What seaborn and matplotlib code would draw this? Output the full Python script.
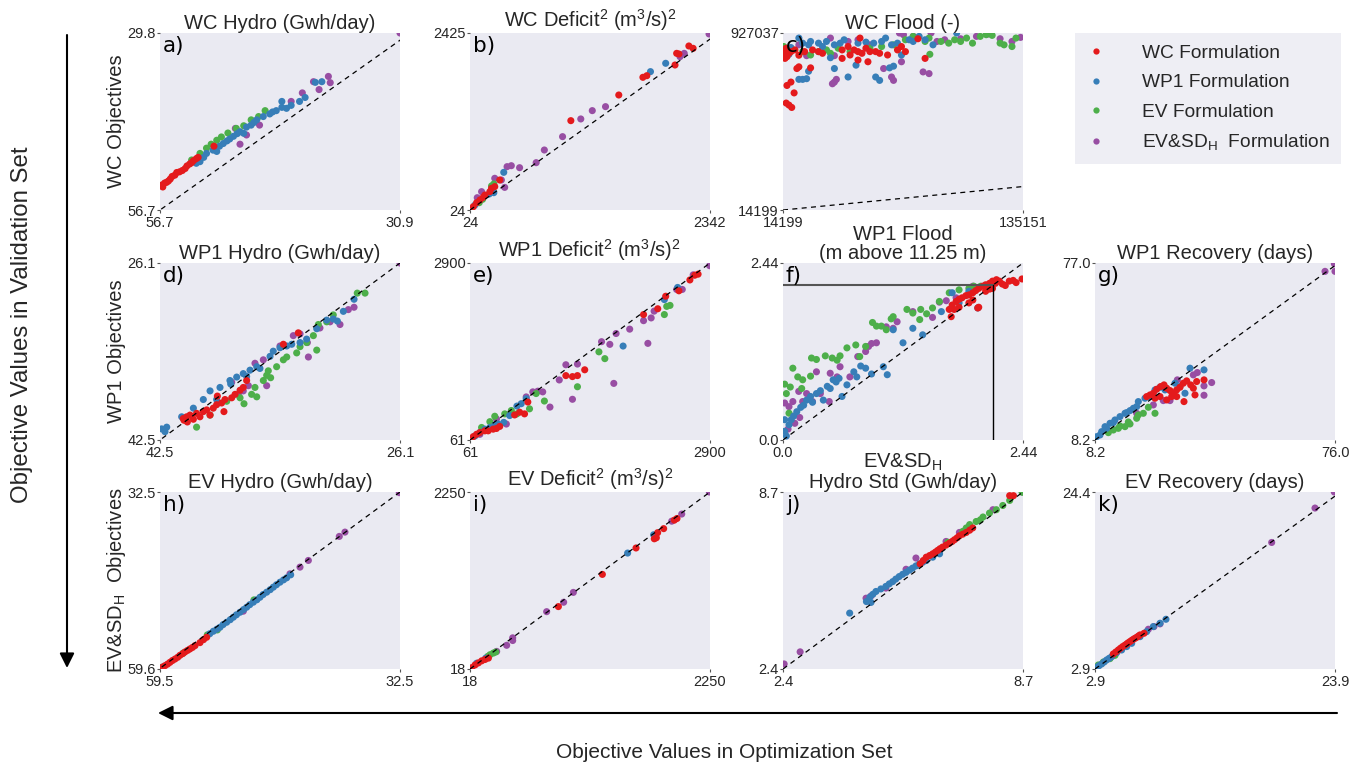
import matplotlib
matplotlib.use("Agg")
import matplotlib.pyplot as plt
from matplotlib.lines import Line2D
import seaborn as sns
import pandas as pd

# ---------------- data ----------------
FORMS = ["WC Formulation", "WP1 Formulation", "EV Formulation",
         "EV&SD$_\\mathregular{H}$  Formulation"]
COLORS = ["#E41A1C", "#377EB8", "#4DAF4A", "#984EA3"]

# a) WC Hydro
a_wc = [(56.6, 53.0), (56.5, 52.9), (56.4, 53.2), (56.2, 52.6), (56.0, 52.5), (55.8, 52.3), (55.6, 52.0),
        (55.4, 51.6), (55.1, 51.4), (54.9, 51.0), (54.6, 50.9), (54.3, 50.7), (54.0, 50.4), (53.8, 50.0),
        (53.5, 49.7), (53.3, 49.5), (53.1, 49.2), (52.8, 48.9), (52.6, 48.7), (50.9, 47.0)]
a_wp1 = [(52.8, 49.6), (52.4, 49.35), (52.0, 48.7), (51.7, 48.1), (51.0, 47.6), (50.6, 47.8), (50.3, 47.0),
         (49.9, 46.6), (49.5, 46.2), (49.2, 45.9), (48.8, 45.5), (48.4, 45.1), (48.1, 44.8), (47.7, 45.05),
         (47.4, 44.1), (46.9, 43.8), (46.6, 43.4), (46.3, 43.0), (45.6, 42.5), (44.9, 42.1), (44.6, 41.8),
         (44.2, 41.6), (43.6, 41.1), (43.6, 40.2), (43.1, 41.25), (42.6, 40.8), (41.7, 40.2), (41.1, 39.6),
         (40.0, 37.3), (39.3, 37.2)]
a_ev = [(53.3, 49.1), (52.4, 48.1), (51.7, 47.3), (51.2, 46.7), (50.6, 46.1), (50.1, 45.6), (49.4, 45.0),
        (48.5, 44.3), (47.7, 43.9), (46.9, 43.0), (46.1, 42.5), (45.4, 41.6)]
a_evsd = [(48.6, 44.3), (48.1, 46.7), (47.4, 45.3), (46.0, 43.8), (42.6, 40.2), (41.4, 38.9), (40.2, 37.2),
          (39.6, 38.4), (38.4, 37.35), (38.6, 36.4), (30.9, 29.8)]

# b) WC Deficit^2
b_wc = [(56, 69), (88, 123), (120, 160), (152, 196), (168, 227), (216, 273), (232, 318), (263, 341),
        (311, 431), (998, 1236), (1461, 1584), (1694, 1824), (1732, 1846), (2004, 1991), (2020, 2149),
        (2042, 2140), (2138, 2249), (2179, 2217)]
b_wp1 = [(72, 92), (209, 241), (254, 259), (350, 535), (1767, 1901), (1914, 2014)]
b_ev = [(113, 123), (145, 169), (232, 350), (254, 377)]
b_evsd = [(94, 191), (136, 273), (263, 454), (327, 431), (359, 331), (382, 612), (423, 625), (503, 598),
          (663, 666), (742, 838), (918, 1019), (1094, 1259), (1205, 1372), (1333, 1426), (2052, 2104),
          (2093, 2149), (2333, 2412)]

# c) WC Flood
c_wc = [(15200, 796100), (14600, 813600), (15200, 831000), (15800, 848500), (16200, 804900), (17200, 822300),
        (18200, 831000), (20200, 839800), (22200, 812400), (25100, 831000), (29100, 839800), (32100, 831000),
        (34100, 822300), (44000, 839800), (48000, 813600), (50000, 839800), (52000, 831000), (54000, 822300),
        (56000, 848500), (58000, 831000), (60900, 831000), (62900, 822300), (66900, 813600), (71900, 839800),
        (73900, 857200), (75900, 831000), (82200, 897400), (85800, 796100), (53000, 900900), (47000, 857200),
        (16200, 656500), (18200, 674000), (15800, 565700), (17200, 555300), (18600, 543100), (19800, 618100),
        (21200, 743800), (22200, 752500), (28100, 747300), (44000, 796100), (52000, 787400), (57000, 778700)]
c_wp1 = [(22200, 900900), (24100, 874700), (27100, 866000), (28100, 883400), (32100, 874700), (34100, 857200),
         (36100, 883400), (40100, 866000), (43000, 874700), (45000, 892100), (52000, 874700), (56000, 879900),
         (59900, 874700), (63900, 883400), (65900, 900900), (68900, 866000), (71900, 874700), (77800, 892100),
         (79800, 883400), (82800, 909600), (85800, 892100), (89800, 866000), (101700, 927000), (40100, 743800),
         (47000, 700100), (51000, 761200), (60900, 700100), (62900, 682700), (67900, 747300), (69900, 756000),
         (24100, 687900), (26100, 691400), (27100, 729800), (22200, 687900), (17200, 817100), (18200, 852000),
         (38100, 799600), (73900, 813600)]
c_ev = [(14600, 857200), (15200, 839800), (18200, 839800), (24100, 831000), (28100, 813600), (32100, 831000),
        (36100, 839800), (38100, 822300), (42000, 848500), (48000, 831000), (58000, 848500), (63900, 857200),
        (69900, 866000), (75900, 892100), (79800, 909600), (87800, 900900), (93800, 883400), (97700, 874700),
        (100700, 892100), (103700, 883400), (106700, 900900), (109700, 874700), (113600, 909600),
        (116600, 918300), (119600, 914800), (123600, 874700), (125600, 866000), (129600, 857200),
        (131600, 900900), (85800, 883400), (88200, 817100)]
c_evsd = [(38100, 900900), (40100, 810100), (47000, 883400), (52000, 892100), (58000, 866000), (64900, 743800),
          (68900, 700100), (69900, 682700), (73900, 778700), (74900, 918300), (79800, 909600), (84800, 726300),
          (87800, 717600), (40100, 674000), (41100, 687900), (39100, 665200), (91800, 883400), (95700, 892100),
          (103700, 897400), (111700, 909600), (117600, 921800), (123600, 897400), (129600, 883400),
          (133900, 904400), (88800, 927000), (72900, 927000), (22200, 866000), (26100, 810100)]

# d) WP1 Hydro
d_wc = [(40.91, 40.51), (40.68, 40.35), (40.45, 40.19), (40.22, 40.58), (40.0, 40.03), (39.77, 40.35),
        (39.54, 39.87), (39.31, 39.71), (39.08, 40.19), (38.86, 39.55), (38.63, 39.23), (38.29, 39.07),
        (38.06, 38.75), (37.60, 38.59), (37.37, 38.27), (37.03, 37.89), (36.81, 37.63), (36.58, 36.99),
        (40.63, 40.83), (40.86, 40.67), (33.05, 32.57), (34.07, 33.63), (38.58, 38.43), (38.13, 39.87)]
d_wp1 = [(42.39, 41.47), (42.04, 41.31), (42.16, 41.73), (41.02, 40.35), (40.22, 39.55), (39.54, 38.75),
         (39.08, 37.95), (38.40, 37.63), (37.72, 36.99), (37.26, 36.67), (36.81, 36.35), (36.35, 36.03),
         (35.89, 35.71), (35.67, 35.87), (34.98, 34.75), (34.76, 34.27), (34.30, 33.95), (33.84, 33.79),
         (33.50, 33.63), (32.93, 33.47), (32.48, 33.15), (31.79, 32.19), (31.11, 31.39), (30.66, 31.29),
         (30.38, 31.48), (29.97, 30.58), (29.24, 29.46), (37.67, 37.31), (38.63, 38.75), (36.58, 36.61)]
d_ev = [(40.0, 41.31), (39.08, 40.19), (37.94, 38.91), (37.03, 38.59), (36.76, 39.14), (36.24, 38.27),
        (36.01, 37.63), (35.44, 36.99), (35.21, 36.51), (34.94, 36.73), (34.53, 35.71), (34.07, 35.07),
        (33.84, 34.81), (33.16, 34.43), (32.93, 33.85), (32.48, 33.47), (31.79, 34.17), (32.02, 32.83),
        (31.68, 31.80), (31.11, 31.55), (30.66, 30.91), (29.02, 28.89), (28.49, 28.89), (35.10, 36.09),
        (35.89, 38.50)]
d_evsd = [(37.60, 37.15), (36.81, 37.95), (36.46, 37.47), (36.01, 35.39), (35.44, 35.07), (35.21, 37.47),
          (34.30, 33.79), (33.39, 32.83), (32.93, 32.67), (32.43, 33.47), (32.36, 34.81), (31.57, 32.12),
          (30.88, 31.55), (30.20, 31.80), (29.63, 30.42), (29.24, 30.20), (26.1, 26.1), (37.15, 38.27)]

# e) WP1 Deficit^2
e_wc = [(100, 115), (139, 153), (178, 181), (237, 208), (276, 208), (335, 235), (374, 246), (413, 279),
        (589, 463), (648, 507), (706, 480), (745, 670), (1195, 1094), (1273, 1078), (1332, 1094), (1418, 1187),
        (2114, 2073), (2282, 2166), (2376, 2367), (2532, 2454), (2662, 2628), (2720, 2704), (2759, 2721)]
e_wp1 = [(120, 126), (178, 181), (237, 235), (296, 262), (354, 300), (393, 317), (460, 344), (530, 453),
         (616, 605), (667, 643), (726, 724), (1872, 1568), (2360, 2313), (2517, 2508)]
e_ev = [(198, 262), (296, 355), (354, 442), (472, 480), (550, 534), (616, 480), (765, 561), (843, 806),
        (941, 686), (1586, 1475), (1656, 1366), (1332, 915), (2388, 2204), (2427, 2220), (2360, 2073)]
e_evsd = [(178, 153), (393, 289), (491, 317), (726, 752), (804, 833), (863, 844), (921, 833), (1007, 589),
          (1117, 1024), (1195, 1268), (1273, 714), (1332, 1279), (1617, 1638), (1715, 1595), (1762, 969),
          (1789, 1769), (1950, 1839), (2165, 1611), (2114, 1975), (2204, 2019), (2239, 2128), (2505, 2476),
          (2572, 2476), (2701, 2710), (2896, 2857), (374, 398)]

# f) WP1 Flood
f_wc = [(1.69, 1.80), (1.72, 1.86), (1.76, 1.91), (1.79, 1.94), (1.82, 1.96), (1.86, 1.99), (1.89, 2.00),
        (1.93, 2.03), (1.96, 2.06), (1.99, 2.09), (2.03, 2.12), (2.06, 2.14), (2.10, 2.16), (2.13, 2.19),
        (2.16, 2.16), (2.20, 2.19), (2.23, 2.15), (2.26, 2.13), (2.30, 2.19), (2.34, 2.20), (2.37, 2.17),
        (2.43, 2.22), (1.74, 1.80), (1.79, 1.83), (1.93, 1.93), (1.99, 1.83), (1.89, 1.89), (2.06, 2.05),
        (2.13, 2.09), (1.98, 1.82), (2.10, 2.08), (2.17, 2.21), (1.71, 1.70)]
f_wp1 = [(0.017, 0.12), (0.034, 0.055), (0.061, 0.21), (0.084, 0.28), (0.108, 0.33), (0.14, 0.39), (0.18, 0.45),
         (0.21, 0.48), (0.24, 0.55), (0.28, 0.60), (0.30, 0.52), (0.34, 0.64), (0.38, 0.68), (0.41, 0.55),
         (0.45, 0.74), (0.48, 0.71), (0.51, 0.83), (0.54, 0.80), (0.57, 0.85), (0.60, 0.60), (0.65, 0.76),
         (0.72, 0.94), (0.75, 0.87), (0.79, 1.02), (0.84, 0.99), (0.90, 0.91), (1.02, 1.01), (1.06, 0.90),
         (1.12, 1.52), (1.22, 1.34), (1.32, 1.54), (1.42, 1.45), (1.61, 1.77), (1.72, 2.03), (1.89, 2.05),
         (1.98, 1.82), (1.79, 1.89), (0.017, 0.28)]
f_ev = [(0.017, 0.77), (0.034, 0.64), (0.061, 0.37), (0.074, 0.73), (0.10, 0.99), (0.15, 0.87), (0.19, 0.71),
        (0.20, 0.83), (0.28, 0.88), (0.29, 1.13), (0.34, 1.11), (0.43, 1.16), (0.50, 1.13), (0.55, 1.10),
        (0.58, 1.16), (0.65, 1.27), (0.74, 1.31), (0.78, 1.15), (0.84, 1.29), (0.91, 1.62), (0.95, 1.57),
        (1.00, 1.57), (1.05, 1.52), (1.10, 1.67), (1.12, 1.70), (1.26, 1.80), (1.32, 1.75), (1.39, 1.66),
        (1.40, 1.80), (1.46, 1.74), (1.52, 1.82), (1.59, 1.91), (1.69, 2.03), (1.79, 2.07), (1.89, 2.09),
        (1.94, 2.12), (2.01, 2.12), (2.08, 2.13)]
f_evsd = [(0.017, 0.51), (0.061, 0.46), (0.10, 0.53), (0.16, 0.67), (0.20, 0.53), (0.24, 0.64), (0.30, 0.53),
          (0.34, 0.94), (0.38, 0.64), (0.47, 0.53), (0.48, 0.92), (0.55, 0.87), (0.58, 1.01), (0.68, 0.87),
          (0.76, 1.15), (0.84, 1.22), (0.87, 1.29), (0.90, 1.33), (0.95, 1.34), (1.05, 1.56), (1.12, 1.54),
          (1.16, 1.63), (1.32, 1.77), (1.52, 1.69), (1.59, 1.90), (1.66, 1.92), (1.76, 1.96), (1.93, 2.12),
          (0.051, 0.15), (0.12, 0.23), (0.17, 0.31)]
F_THRESHOLD = 2.14

# g) WP1 Recovery
g_wc = [(22.80, 25.08), (23.74, 25.72), (24.68, 26.37), (25.62, 27.93), (26.75, 28.97), (27.69, 29.62),
        (28.45, 28.32), (29.39, 27.41), (30.33, 26.37), (31.27, 27.67), (32.21, 28.71), (33.15, 30.27),
        (34.10, 31.18), (35.23, 29.62), (35.98, 28.32), (36.92, 30.92), (39.0, 31.57), (36.45, 25.72),
        (33.34, 23.13), (26.56, 25.08), (25.15, 24.43), (28.45, 23.78), (29.86, 25.08), (31.27, 25.08)]
g_wp1 = [(8.67, 9.50), (10.08, 11.45), (11.03, 13.39), (12.44, 14.69), (13.85, 15.99), (15.26, 17.29),
         (16.67, 18.58), (18.09, 19.62), (19.03, 20.53), (20.44, 23.13), (22.32, 24.43), (23.74, 25.08),
         (25.15, 27.67), (26.56, 28.71), (27.98, 27.67), (30.80, 30.27), (32.21, 28.97), (35.04, 36.11),
         (38.99, 35.46), (33.62, 26.37), (9.61, 10.15), (11.50, 12.74), (13.38, 14.95), (17.15, 18.84),
         (19.97, 21.18)]
g_ev = [(11.97, 11.06), (13.38, 12.09), (14.79, 12.74), (16.67, 13.39), (18.09, 14.43), (19.97, 16.64),
        (21.85, 18.58), (23.27, 20.92), (25.15, 18.58), (20.44, 17.94), (15.26, 13.65), (17.62, 15.21)]
g_evsd = [(19.97, 18.58), (24.68, 21.83), (27.50, 23.52), (29.39, 23.52), (31.46, 31.57), (35.98, 33.51),
          (37.11, 34.42), (38.99, 29.23), (38.99, 25.59), (41.16, 30.53), (73.18, 73.75), (75.81, 76.74),
          (76.0, 73.75)]

# h) EV Hydro
h_wc = [(59.2, 59.3), (58.94, 59.09), (58.65, 58.85), (58.38, 58.58), (58.1, 58.3), (57.81, 58.07),
        (57.5, 57.8), (57.25, 57.50), (56.95, 57.25), (56.69, 56.99), (56.4, 56.75), (56.13, 56.53),
        (55.85, 56.3), (55.56, 56.02), (55.0, 55.56), (54.6, 55.1), (54.25, 54.74)]
h_wp1 = [(53.9, 54.2), (53.5, 53.82), (53.1, 53.5), (52.75, 53.21), (52.4, 52.8), (52.0, 52.44),
         (51.6, 52.05), (51.25, 51.67), (50.9, 51.3), (50.5, 50.91), (50.1, 50.5), (49.75, 50.14),
         (49.4, 49.75), (49.0, 49.37), (48.6, 49.0), (48.25, 48.61), (47.9, 48.2), (47.5, 47.84),
         (47.1, 47.45), (46.75, 47.07), (46.4, 46.7), (46.0, 46.31), (45.6, 45.95), (45.25, 45.64),
         (44.8, 45.18)]
h_ev = [(59.31, 59.34), (56.88, 57.15), (54.18, 54.38), (53.05, 53.62), (48.93, 49.02)]
h_evsd = [(50.13, 50.75), (44.88, 45.03), (43.75, 44.0), (42.81, 42.98), (39.33, 39.30), (38.69, 38.64),
          (32.58, 32.6)]

# i) EV Deficit^2
i_wc = [(34, 35), (65, 69), (96, 95), (127, 121), (158, 138), (189, 155), (840, 805), (1249, 1211),
        (1562, 1544), (1732, 1660), (1751, 1673), (1763, 1737), (1819, 1788), (1918, 1895), (1943, 1916)]
i_wp1 = [(80, 91), (164, 155), (1484, 1480), (1726, 1711)]
i_ev = [(182, 176), (204, 198), (235, 219), (257, 232)]
i_evsd = [(266, 240), (359, 317), (415, 411), (415, 377), (731, 741), (889, 860), (979, 984), (1894, 1882),
          (1987, 1972), (2244, 2250)]

# j) EV&SD_H Hydro Std
j_wc = [(6.0, 6.14), (6.08, 6.26), (6.16, 6.38), (6.25, 6.44), (6.33, 6.50), (6.40, 6.56), (6.46, 6.62),
        (6.52, 6.68), (6.59, 6.74), (6.68, 6.81), (6.77, 6.88), (6.84, 6.94), (6.90, 7.0), (6.97, 7.07),
        (7.03, 7.14), (7.12, 7.20), (7.21, 7.26), (7.30, 7.34), (7.38, 7.42), (8.35, 8.57), (8.45, 8.57)]
j_wp1 = [(4.15, 4.39), (4.59, 4.80), (4.68, 4.96), (4.76, 5.06), (4.84, 5.16), (4.97, 5.25), (5.10, 5.34),
         (5.28, 5.51), (5.36, 5.60), (5.45, 5.69), (5.54, 5.77), (5.63, 5.84), (5.72, 5.92), (5.80, 5.99),
         (5.89, 6.07), (5.98, 6.14), (6.07, 6.20), (6.16, 6.26), (6.33, 6.38), (6.51, 6.50), (4.71, 4.77),
         (5.19, 5.43)]
j_ev = [(7.12, 7.30), (7.21, 7.42), (7.30, 7.54), (7.47, 7.65), (7.65, 7.81), (7.82, 7.95), (8.0, 8.07),
        (8.17, 8.22), (8.35, 8.40), (8.68, 8.69), (6.73, 6.91), (7.58, 7.71)]
j_evsd = [(2.43, 2.58), (2.85, 3.01), (4.58, 4.92), (4.71, 5.00), (5.63, 5.95), (5.89, 6.35), (6.68, 6.94),
          (7.03, 7.26), (7.30, 7.50), (7.91, 8.07), (8.68, 8.70), (5.10, 5.28)]

# k) EV Recovery
k_wc = [(4.50, 4.73), (4.72, 4.97), (4.94, 5.21), (5.13, 5.42), (5.32, 5.62), (5.50, 5.78), (5.67, 5.94),
        (5.80, 6.08), (5.96, 6.23), (6.10, 6.37), (6.25, 6.51), (6.40, 6.63), (6.55, 6.75), (6.70, 6.90),
        (6.84, 7.04), (7.19, 7.24)]
k_wp1 = [(3.05, 3.10), (3.25, 3.30), (3.48, 3.51), (3.70, 3.75), (3.92, 4.0), (4.14, 4.20), (4.36, 4.40),
         (4.80, 4.89), (5.23, 5.21), (5.67, 5.62), (6.11, 6.02), (6.84, 6.83), (7.42, 7.44), (8.0, 8.05),
         (8.59, 8.46), (9.11, 8.94)]
k_ev = [(3.19, 3.39), (3.63, 3.75), (4.21, 4.16), (4.65, 4.56)]
k_evsd = [(7.57, 7.73), (8.06, 8.05), (8.59, 8.38), (18.36, 18.27), (22.15, 22.45), (23.84, 24.4)]

SUP2 = "$^\\mathregular{2}$"
SUP3 = "$^\\mathregular{3}$"
TITLES = ["WC Hydro (Gwh/day)", "WC Deficit" + SUP2 + " (m" + SUP3 + "/s)" + SUP2, "WC Flood (-)",
          "WP1 Hydro (Gwh/day)", "WP1 Deficit" + SUP2 + " (m" + SUP3 + "/s)" + SUP2,
          "WP1 Flood\n(m above 11.25 m)", "WP1 Recovery (days)",
          "EV Hydro (Gwh/day)", "EV Deficit" + SUP2 + " (m" + SUP3 + "/s)" + SUP2,
          "EV&SD$_\\mathregular{H}$\nHydro Std (Gwh/day)", "EV Recovery (days)"]
LETTERS = ["a)", "b)", "c)", "d)", "e)", "f)", "g)", "h)", "i)", "j)", "k)"]
XLIMS = [(56.7, 30.9), (24, 2342), (14199, 135151), (42.5, 26.1), (61, 2900), (0.0, 2.44), (8.2, 76.0),
         (59.5, 32.5), (18, 2250), (2.4, 8.7), (2.9, 23.9)]
YLIMS = [(56.7, 29.8), (24, 2425), (14199, 927037), (42.5, 26.1), (61, 2900), (0.0, 2.44), (8.2, 77.0),
         (59.6, 32.5), (18, 2250), (2.4, 8.7), (2.9, 24.4)]
XTICKLABELS = [("56.7", "30.9"), ("24", "2342"), ("14199", "135151"), ("42.5", "26.1"), ("61", "2900"),
               ("0.0", "2.44"), ("8.2", "76.0"), ("59.5", "32.5"), ("18", "2250"), ("2.4", "8.7"), ("2.9", "23.9")]
YTICKLABELS = [("56.7", "29.8"), ("24", "2425"), ("14199", "927037"), ("42.5", "26.1"), ("61", "2900"),
               ("0.0", "2.44"), ("8.2", "77.0"), ("59.6", "32.5"), ("18", "2250"), ("2.4", "8.7"), ("2.9", "24.4")]
PANEL_DATA = [(a_wc, a_wp1, a_ev, a_evsd), (b_wc, b_wp1, b_ev, b_evsd), (c_wc, c_wp1, c_ev, c_evsd),
              (d_wc, d_wp1, d_ev, d_evsd), (e_wc, e_wp1, e_ev, e_evsd), (f_wc, f_wp1, f_ev, f_evsd),
              (g_wc, g_wp1, g_ev, g_evsd), (h_wc, h_wp1, h_ev, h_evsd), (i_wc, i_wp1, i_ev, i_evsd),
              (j_wc, j_wp1, j_ev, j_evsd), (k_wc, k_wp1, k_ev, k_evsd)]
ROW_LABELS = ["WC Objectives", "WP1 Objectives", "EV&SD$_\\mathregular{H}$  Objectives"]

# ---------------- style / layout ----------------
sns.set_style("dark")
plt.rcParams["font.family"] = ["Liberation Sans", "DejaVu Sans"]
plt.rcParams["mathtext.fontset"] = "custom"
plt.rcParams["mathtext.rm"] = "Liberation Sans"
plt.rcParams["text.color"] = "#262626"

W, H = 1361, 765
fig = plt.figure(figsize=(W / 100, H / 100), dpi=100)

COL_LEFT = [160, 470, 783, 1095]
ROW_TOP = [33, 263, 492]
PW, PH = 240, 177
GRID = [(0, 0), (0, 1), (0, 2), (1, 0), (1, 1), (1, 2), (1, 3), (2, 0), (2, 1), (2, 2), (2, 3)]

for idx, (r, c) in enumerate(GRID):
    ax = fig.add_axes([COL_LEFT[c] / W, 1 - (ROW_TOP[r] + PH) / H, PW / W, PH / H])
    rows = []
    # draw purple first, red last (on top)
    for name, pts in reversed(list(zip(FORMS, PANEL_DATA[idx]))):
        for x, y in pts:
            rows.append((x, y, name))
    df = pd.DataFrame(rows, columns=["x", "y", "form"])
    sns.scatterplot(data=df, x="x", y="y", hue="form", hue_order=FORMS, palette=COLORS,
                    s=26, linewidth=0, legend=False, ax=ax, zorder=2)
    xl, yl = XLIMS[idx], YLIMS[idx]
    lo, hi = min(xl + yl), max(xl + yl)
    ax.plot([lo, hi], [lo, hi], color="black", lw=0.9, ls=(0, (4, 3.5)), zorder=3)
    if idx == 5:
        ax.plot([xl[0], F_THRESHOLD], [F_THRESHOLD, F_THRESHOLD], color="#555555", lw=1.5, zorder=4)
        ax.plot([F_THRESHOLD, F_THRESHOLD], [yl[0], F_THRESHOLD], color="black", lw=1.0, zorder=4)
    ax.set_xlim(*xl)
    ax.set_ylim(*yl)
    ax.set_xticks(list(xl))
    ax.set_xticklabels(XTICKLABELS[idx])
    ax.set_yticks(list(yl))
    ax.set_yticklabels(YTICKLABELS[idx])
    ax.tick_params(axis="both", which="both", length=2, width=0.8, color="#555555",
                   labelsize=10.5, pad=1, left=True, bottom=True, labelcolor="#262626")
    ax.tick_params(axis="x", pad=2)
    ax.set_xlabel("")
    ax.set_ylabel("")
    ax.set_title(TITLES[idx], fontsize=14.5, pad=2, color="#262626", linespacing=1.0)
    ax.text(0.012, 0.985, LETTERS[idx], transform=ax.transAxes, ha="left", va="top",
            fontsize=15.5, family="DejaVu Sans", color="black", zorder=5)
    for sp in ax.spines.values():
        sp.set_visible(False)

# row labels
for r, lab in enumerate(ROW_LABELS):
    fig.text(116 / W, 1 - (ROW_TOP[r] + PH / 2) / H, lab, rotation=90, ha="center", va="center",
             fontsize=14.5, color="#262626")

# arrows and outer labels
ov = fig.add_axes([0, 0, 1, 1])
ov.set_xlim(0, W)
ov.set_ylim(H, 0)
ov.axis("off")
ov.patch.set_alpha(0)
ov.annotate("", xy=(67, 668), xytext=(67, 35),
            arrowprops=dict(arrowstyle="-|>", color="black", lw=1.5, mutation_scale=22, shrinkA=0, shrinkB=0))
ov.annotate("", xy=(158, 713), xytext=(1337, 713),
            arrowprops=dict(arrowstyle="-|>", color="black", lw=1.5, mutation_scale=22, shrinkA=0, shrinkB=0))
ov.text(22, 325, "Objective Values in Validation Set", rotation=90, ha="center", va="center",
        fontsize=17.3, color="#262626")
ov.text(724, 752, "Objective Values in Optimization Set", ha="center", va="center",
        fontsize=15, color="#262626")

# legend
handles = [Line2D([], [], marker="o", ls="", color=col, markersize=4.5, markeredgewidth=0) for col in COLORS]
fig.legend(handles, FORMS, loc="upper left", bbox_to_anchor=(1075 / W, 1 - 33 / H),
           frameon=True, fancybox=False, facecolor="#EAEAF2", edgecolor="none", fontsize=13.8,
           handletextpad=1.9, labelspacing=0.62, borderpad=0.6, handlelength=1.0, borderaxespad=0)

fig.savefig("out.png", dpi=100)
